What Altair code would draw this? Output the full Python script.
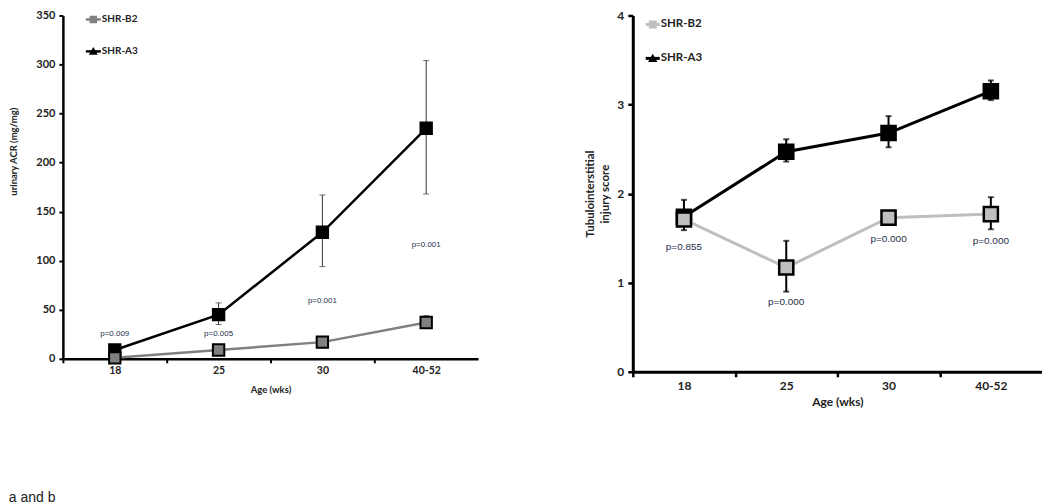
import altair as alt
import pandas as pd

ages = ["18", "25", "30", "40-52"]
series = ["SHR-B2", "SHR-A3"]

# panel a: urinary ACR (mg/mg)
acr_b2 = [1, 9, 17, 37]
acr_b2_lo = [0, 7, 15, 31]
acr_b2_hi = [3, 11, 19, 44]
acr_a3 = [9, 45, 129, 235]
acr_a3_lo = [5, 35, 94, 168]
acr_a3_hi = [13, 57, 167, 304]
acr_p_text = ["p=0.009", "p=0.005", "p=0.001", "p=0.001"]
acr_p_pos = [25, 25, 59, 116]
acr_ticks = [0, 50, 100, 150, 200, 250, 300, 350]

# panel b: tubulointerstitial injury score
ti_b2 = [1.71, 1.17, 1.73, 1.77]
ti_b2_lo = [1.66, 0.90, 1.68, 1.60]
ti_b2_hi = [1.76, 1.47, 1.79, 1.96]
ti_a3 = [1.74, 2.47, 2.68, 3.15]
ti_a3_lo = [1.59, 2.36, 2.52, 3.05]
ti_a3_hi = [1.93, 2.61, 2.87, 3.27]
ti_p_text = ["p=0.855", "p=0.000", "p=0.000", "p=0.000"]
ti_p_pos = [1.40, 0.78, 1.49, 1.47]
ti_ticks = [0, 1, 2, 3, 4]

caption = "a and b"


def series_df(mean, lo, hi):
    return pd.DataFrame({"age": ages, "mean": mean, "lo": lo, "hi": hi})


def make_panel(b2, a3, ptext, ppos, ymax, yticks, W, H, s):
    band = W / 4.0
    xenc = alt.X(
        "age:N", sort=ages,
        scale=alt.Scale(type="point", padding=0.5, domain=ages),
        axis=alt.Axis(
            title="Age (wks)", labelAngle=0,
            labelFontSize=s["xlab"], titleFontSize=s["xtitle"],
            labelFont="Lato", titleFont="Lato",
            labelFontWeight="bold", titleFontWeight="bold",
            labelColor="#222", titleColor="#222",
            domainColor="black", domainWidth=s["dw"],
            tickColor="black", tickWidth=s["tw"], tickSize=s["ts"],
            tickOffset=-band / 2, labelOffset=band / 2,
            labelPadding=s["xlp"], titlePadding=s["xtp"], grid=False,
        ),
    )
    yaxis = dict(
        title=s["ytitle"], values=yticks,
        labelFontSize=s["ylab"], titleFontSize=s["ytfs"],
        labelFont="Lato", titleFont="Lato",
        labelFontWeight="bold", titleFontWeight="bold",
        labelColor="#222", titleColor="#222",
        domainColor="black", domainWidth=s["dw"],
        tickColor="black", tickWidth=s["tw"], tickSize=s["ts"],
        labelPadding=4, titlePadding=s["ytp"], grid=False,
        titleLineHeight=s.get("tlh", 12),
    )
    if "titleY" in s:
        yaxis["titleY"] = s["titleY"]
    yscale = alt.Scale(domain=[0, ymax], nice=False)

    def yenc(field):
        return alt.Y(field, type="quantitative", scale=yscale, axis=alt.Axis(**yaxis))

    layers = []
    for df, line_col, fill_col, stroke_col in [
        (a3, "black", "black", "black"),
        (b2, s["b2col"], s["b2fill"], "black"),
    ]:
        base = alt.Chart(df)
        layers.append(base.mark_rule(color=s["ecol"], strokeWidth=s["ew"]).encode(
            x=xenc, y=yenc("lo"), y2="hi"))
        layers.append(base.mark_tick(color=s["ecol"], thickness=s["ew"], size=6).encode(
            x=xenc, y=yenc("lo")))
        layers.append(base.mark_tick(color=s["ecol"], thickness=s["ew"], size=6).encode(
            x=xenc, y=yenc("hi")))
        layers.append(base.mark_line(color=line_col, strokeWidth=s["lw"]).encode(
            x=xenc, y=yenc("mean")))
        layers.append(base.mark_point(shape="square", filled=True, fill=fill_col,
                                      stroke=stroke_col, strokeWidth=s["msw"],
                                      size=s["msize"], opacity=1).encode(
            x=xenc, y=yenc("mean")))

    pdf = pd.DataFrame({"age": ages, "p": ppos, "label": ptext})
    layers.append(alt.Chart(pdf).mark_text(
        font="Liberation Sans", fontSize=s["pfs"], color="#26304a",
        align="center", baseline="middle").encode(
        x=xenc, y=yenc("p"), text="label:N"))

    # legend
    leg = s["leg"]
    for i, name in enumerate(series):
        ly = leg["y"][i]
        col = s["b2col"] if i == 0 else "black"
        ldf = pd.DataFrame({"name": [name]})
        c = alt.Chart(ldf)
        layers.append(c.mark_rule(color=col, strokeWidth=s["lw"]).encode(
            x=alt.value(leg["x0"]), x2=alt.value(leg["x1"]), y=alt.value(ly)))
        layers.append(c.mark_point(shape="square" if i == 0 else "triangle-up",
                                   filled=True, fill=col, stroke=col, opacity=1,
                                   size=leg["ms"]).encode(
            x=alt.value((leg["x0"] + leg["x1"]) / 2), y=alt.value(ly)))
        layers.append(c.mark_text(font="Lato", fontWeight="bold", fontSize=leg["fs"],
                                  color="#222", align="left", baseline="middle").encode(
            x=alt.value(leg["x1"] + 1), y=alt.value(ly), text="name:N"))

    return alt.layer(*layers).properties(width=W, height=H)


left = make_panel(
    series_df(acr_b2, acr_b2_lo, acr_b2_hi), series_df(acr_a3, acr_a3_lo, acr_a3_hi),
    acr_p_text, acr_p_pos, 350, acr_ticks, 416, 344,
    dict(xlab=10.5, xtitle=9.5, ylab=11, ytfs=9.5, ytitle="urinary ACR (mg/mg)",
         ytp=17, titleY=136, dw=2.5, tw=2, ts=4, xlp=3, xtp=8,
         b2col="#808080", b2fill="#808080", ecol="#333", ew=1, lw=2.5,
         msw=2, msize=130, pfs=8,
         leg=dict(x0=23, x1=38, y=[4, 36], fs=10, ms=30)),
)

right = make_panel(
    series_df(ti_b2, ti_b2_lo, ti_b2_hi), series_df(ti_a3, ti_a3_lo, ti_a3_hi),
    ti_p_text, ti_p_pos, 4, ti_ticks, 410, 357,
    dict(xlab=12, xtitle=12, ylab=12, ytfs=11.5,
         ytitle=["Tubulointerstitial", "injury score"], tlh=15,
         ytp=6, dw=3, tw=2.5, ts=5, xlp=4, xtp=5,
         b2col="#bfbfbf", b2fill="#bfbfbf", ecol="black", ew=2, lw=3,
         msw=2.5, msize=200, pfs=10,
         leg=dict(x0=13, x1=27, y=[9, 43], fs=11.5, ms=35)),
)

chart = alt.hconcat(left, right, spacing=107).properties(
    title=alt.TitleParams(caption, orient="bottom", anchor="start", font="Liberation Sans",
                          fontSize=14, fontWeight="normal", color="#222", offset=83),
    padding={"left": 0, "top": 1, "right": 0, "bottom": 0},
).configure_view(stroke=None).configure_concat(spacing=107)

chart.save("out.html", embed_options={"renderer": "svg", "actions": False})
